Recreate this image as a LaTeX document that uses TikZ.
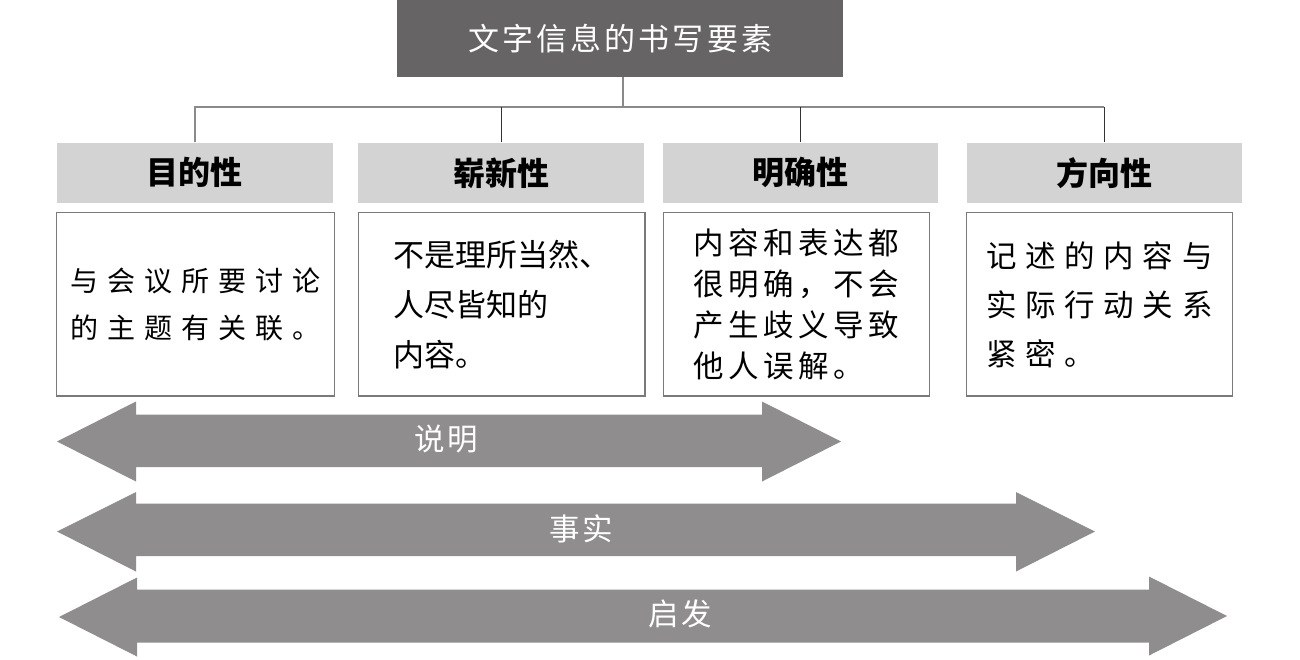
\documentclass[tikz,border=0pt]{standalone}
\usepackage{fontspec}
\setmainfont{Noto Sans CJK SC}
\usepackage{xcolor}
\usepackage{tikz}
\usetikzlibrary{positioning}
\definecolor{titlegray}{HTML}{666465}
\definecolor{headgray}{HTML}{D3D3D3}
\definecolor{boxline}{HTML}{7A7A7A}
\definecolor{busgray}{HTML}{8A8A8A}
\definecolor{arrowgray}{HTML}{8F8D8E}
\newcommand{\wide}[1]{\addfontfeature{LetterSpace=#1}}

\begin{document}
\begin{tikzpicture}[x=1pt,y=-1pt,
    titlebox/.style={fill=titlegray, text=white, minimum width=446pt, minimum height=77pt, inner sep=0pt, font=\fontsize{31}{36}\selectfont\wide{10}},
    headbox/.style={fill=headgray, minimum height=60.5pt, inner sep=0pt, font=\fontsize{32}{37}\selectfont\bfseries},
    textbox/.style={draw=boxline, line width=1.2pt, fill=white, minimum height=183.3pt, inner sep=0pt, align=left},
    arrowlabel/.style={text=white, inner sep=0pt, font=\fontsize{30.5}{35}\selectfont\wide{8}}]
  \useasboundingbox (0,0) rectangle (1300,659);
  % title and the four headers
  \node[titlebox] (title) at (620.3,38.5) {文字信息的书写要素};
  \node[headbox, minimum width=276pt] (h1) at (194.7,172.8) {目的性};
  \node[headbox, minimum width=286pt] (h2) at (501.3,172.8) {崭新性};
  \node[headbox, minimum width=275pt] (h3) at (800.8,172.8) {明确性};
  \node[headbox, minimum width=275.3pt] (h4) at (1104.3,172.8) {方向性};
  % connectors
  \coordinate (bus) at (622.7,106.7);
  \draw[busgray, line width=1.6pt] (title.south -| bus) -- (bus);
  \draw[busgray, line width=1.6pt] (h1.north) -- (h1.north |- bus) -- (h4.north |- bus);
  \foreach \h in {h2,h3,h4} { \draw[black!80, line width=1pt] (\h.north |- bus) -- (\h.north); }
  % text boxes
  \node[textbox, minimum width=278pt, font=\fontsize{28}{47}\selectfont\wide{32}] (b1) at (195.7,304.3)
    {与会议所要讨论\\的主题有关联。};
  \node[textbox, minimum width=286.7pt, font=\fontsize{31}{50}\selectfont] (b2) at (501.7,304.3)
    {不是理所当然、\\人尽皆知的\\内容。};
  \node[textbox, minimum width=266pt, font=\fontsize{30.5}{40.7}\selectfont\wide{15}] (b3) at (796.3,304.3)
    {内容和表达都\\很明确，不会\\产生歧义导致\\他人误解。};
  \node[textbox, minimum width=266pt, font=\fontsize{30.5}{49}\selectfont\wide{28}] (b4) at (1099.7,304.3)
    {记述的内容与\\实际行动关系\\紧密。};
  % double arrows
  \fill[arrowgray] (57,441.5) -- (136,401.5) -- (136,414.5) -- (762,414.5) -- (762,401.5) -- (841,441.5)
    -- (762,481.5) -- (762,467) -- (136,467) -- (136,481.5) -- cycle;
  \node[arrowlabel] (a1) at (446.5,439) {说明};
  \fill[arrowgray] (57,531.5) -- (136,492) -- (136,503.5) -- (1016,503.5) -- (1016,492) -- (1095,531.5)
    -- (1016,571.5) -- (1016,556) -- (136,556) -- (136,571.5) -- cycle;
  \node[arrowlabel] (a2) at (581,529) {事实};
  \fill[arrowgray] (59,617) -- (137,577.5) -- (137,589.5) -- (1149,589.5) -- (1149,576.5) -- (1227,616)
    -- (1149,655.5) -- (1149,642.5) -- (137,642.5) -- (137,656.5) -- cycle;
  \node[arrowlabel] (a3) at (680,614) {启发};
\end{tikzpicture}
\end{document}
